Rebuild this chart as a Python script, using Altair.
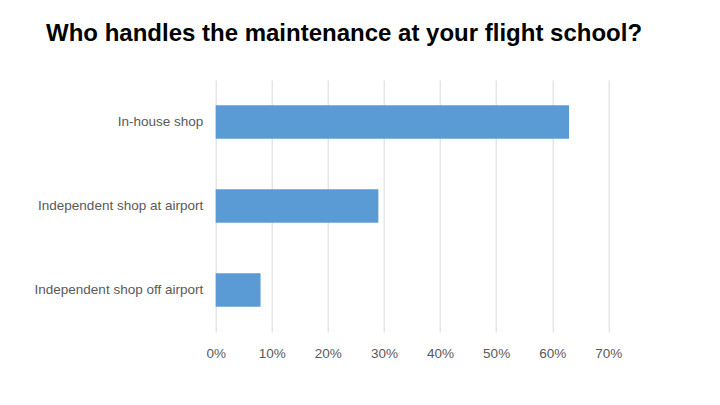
import altair as alt
import pandas as pd

categories = ["In-house shop", "Independent shop at airport", "Independent shop off airport"]
shares = [0.63, 0.29, 0.08]
tick_values = [0, 0.1, 0.2, 0.3, 0.4, 0.5, 0.6, 0.7]

df = pd.DataFrame({"category": categories, "share": shares})

FONT = "Liberation Sans"

chart = alt.Chart(df).mark_bar(color="#5B9BD5").encode(
    x=alt.X("share:Q",
            scale=alt.Scale(domain=[0, 0.7], nice=False),
            axis=alt.Axis(values=tick_values, format=".0%", title=None,
                          grid=True, gridColor="#d9d9d9", gridWidth=1,
                          domain=False, ticks=False, labelPadding=14,
                          labelFlush=False,
                          labelFont=FONT, labelFontSize=13.5, labelColor="#595959")),
    y=alt.Y("category:N", sort=categories,
            scale=alt.Scale(paddingInner=0.6, paddingOuter=0.3),
            axis=alt.Axis(title=None, domain=False, ticks=False, grid=False,
                          labelPadding=13, labelFont=FONT, labelFontSize=13.5,
                          labelColor="#595959", labelLimit=300)),
).properties(
    width=392.6,
    height=252,
    background="#ffffff",
    autosize=alt.AutoSizeParams(type="none"),
    padding={"left": 215.7, "top": 80, "right": 111.7, "bottom": 73},
    title=alt.TitleParams(
        "Who handles the maintenance at your flight school?",
        anchor="start", frame="group", dx=-169.7, dy=24, offset=39,
        baseline="alphabetic", font=FONT, fontSize=24, fontWeight="bold",
        color="#000000"),
).configure_view(strokeOpacity=0, strokeWidth=0)

chart.save("out.html", embed_options={"renderer": "svg", "actions": False})
